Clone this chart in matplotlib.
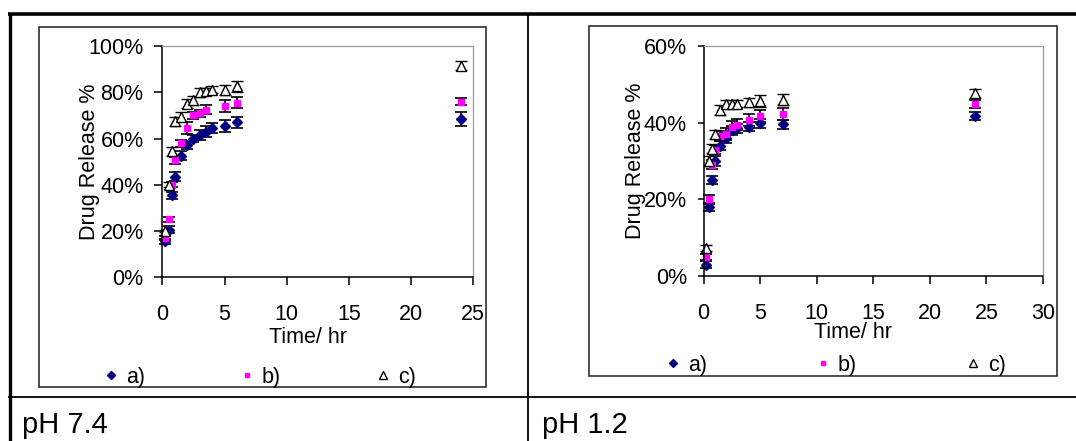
import matplotlib
matplotlib.use("Agg")
import matplotlib.pyplot as plt
from matplotlib.lines import Line2D
from matplotlib.patches import Rectangle
from matplotlib.ticker import PercentFormatter

# ---- data (percent drug release vs time in hours) ----
# pH 7.4
t74_a = [0.25, 0.5, 0.75, 1, 1.5, 2, 2.5, 3, 3.5, 4, 5, 6, 24]
rel74_a = [15.5, 20.5, 35.5, 43.5, 52.5, 57, 60, 61.5, 63, 64.5, 65.5, 67, 68.5]
err74_a = [1.0, 1.5, 1.5, 2.0, 2.0, 1.5, 1.5, 2.0, 2.5, 2.0, 2.5, 2.5, 3.0]

t74_b = [0.25, 0.5, 0.75, 1, 1.5, 2, 2.5, 3, 3.5, 5, 6, 24]
rel74_b = [17, 25, 40, 50.5, 58, 64.5, 70, 71, 72.5, 74, 75.5, 76]
err74_b = [1.0, 1.0, 1.0, 1.5, 1.5, 2.5, 1.5, 1.5, 2.0, 2.5, 2.5, 1.5]

t74_c = [0.25, 0.5, 0.75, 1, 1.5, 2, 2.5, 3, 3.5, 4, 5, 6, 24]
rel74_c = [20, 40, 54.5, 67.5, 69.5, 75, 76.5, 80, 80.5, 81, 81, 82.5, 91.5]
err74_c = [0.5, 1.0, 2.0, 2.0, 2.0, 2.0, 2.0, 2.0, 1.5, 1.5, 2.0, 2.5, 2.0]

# pH 1.2
t12 = [0.25, 0.5, 0.75, 1, 1.5, 2, 2.5, 3, 4, 5, 7, 24]
rel12_a = [3, 18, 25, 30, 34, 36, 38, 38.5, 39, 39.8, 39.6, 41.8]
err12_a = [0.8, 1.0, 1.0, 1.2, 1.2, 1.2, 1.2, 1.2, 1.2, 1.2, 1.2, 1.0]
rel12_b = [5, 20, 29, 33, 36.5, 37, 39, 39.5, 40.7, 41.8, 42.3, 44.8]
err12_b = [0.8, 1.2, 1.2, 1.2, 1.2, 1.5, 1.5, 1.5, 1.5, 1.5, 1.5, 1.0]
rel12_c = [7.2, 30, 33.2, 37, 43.3, 44.8, 45, 45, 45.3, 45.6, 46, 47.7]
err12_c = [0.8, 1.2, 1.2, 1.2, 1.2, 1.0, 1.0, 1.0, 1.2, 1.5, 1.5, 1.2]

labels = ["a)", "b)", "c)"]
captions = ["pH 7.4", "pH 1.2"]

W, H = 1076, 441
fig = plt.figure(figsize=(W / 100, H / 100), dpi=100)
fig.patch.set_facecolor("white")

plt.rcParams["font.family"] = ["Liberation Sans", "DejaVu Sans"]


def fx(x):
    return x / W


def fy(y):
    return 1 - y / H


def hline(x0, x1, y, lw, color="black"):
    fig.add_artist(Line2D([fx(x0), fx(x1)], [fy(y), fy(y)], transform=fig.transFigure,
                          color=color, lw=lw, solid_capstyle="butt"))


def vline(x, y0, y1, lw, color="black"):
    fig.add_artist(Line2D([fx(x), fx(x)], [fy(y0), fy(y1)], transform=fig.transFigure,
                          color=color, lw=lw, solid_capstyle="butt"))


def box(x0, y0, x1, y1):
    fig.add_artist(Rectangle((fx(x0), fy(y1)), fx(x1) - fx(x0), fy(y0) - fy(y1),
                             transform=fig.transFigure, fill=False, ec="#303030", lw=1.2))


# table frame
hline(8, W, 14, 2.6)
vline(9.5, 13, H, 2.4)
vline(528, 14, H, 1.3)
hline(8, W, 396.5, 1.3)

# chart boxes
box(39, 27, 486, 387)
box(589, 26, 1057, 376)


def make_axes(x0, x1, y_top, y_bot, xmax, ymax, ytick_len):
    ax = fig.add_axes([fx(x0), fy(y_bot), fx(x1) - fx(x0), fy(y_top) - fy(y_bot)])
    ax.set_xlim(0, xmax)
    ax.set_ylim(0, ymax)
    for s in ("left", "bottom"):
        ax.spines[s].set_linewidth(1.1)
        ax.spines[s].set_color("black")
    for s in ("top", "right"):
        ax.spines[s].set_linewidth(0.9)
        ax.spines[s].set_color("#9a9a9a")
    ax.yaxis.set_major_formatter(PercentFormatter(xmax=100, decimals=0))
    ax.tick_params(axis="x", direction="out", length=5.5, width=1.1, pad=14,
                   labelsize=15.5, top=False)
    ax.tick_params(axis="y", direction="out", length=ytick_len, width=1.1, pad=8,
                   labelsize=15.5, right=False)
    return ax


def draw_series(ax, series):
    styles = [
        dict(fmt="D", color="#000080", ms=5.2, mec="#000080"),
        dict(fmt="s", color="#ff00ff", ms=4.6, mec="#ff00ff"),
        dict(fmt="^", color="black", ms=7.5, mfc="white", mec="black", mew=1.0),
    ]
    handles = []
    for (t, v, e), st in zip(series, styles):
        c = ax.errorbar(t, v, yerr=e, ecolor="black", elinewidth=1.2, capsize=4,
                        capthick=1.2, linestyle="none", clip_on=False, **st)
        handles.append(c[0])
    return handles


# ---- pH 7.4 ----
ax1 = make_axes(162.3, 473.3, 46, 277.3, 25, 100, 5.5)
ax1.set_xticks([0, 5, 10, 15, 20, 25])
ax1.set_yticks([0, 20, 40, 60, 80, 100])
h1 = draw_series(ax1, [(t74_a, rel74_a, err74_a), (t74_b, rel74_b, err74_b),
                       (t74_c, rel74_c, err74_c)])
ax1.set_ylabel("Drug Release %", fontsize=15.5)
ax1.yaxis.set_label_coords(-0.2, 0.5)
ax1.set_xlabel("Time/ hr", fontsize=15.5)
ax1.xaxis.set_label_coords(0.468, -0.215)
fig.legend(h1, labels, loc="center left", bbox_to_anchor=(fx(102), fy(377)),
           ncol=3, frameon=False, fontsize=15.5, handlelength=0.8, handletextpad=0.3,
           columnspacing=4.35, borderpad=0, borderaxespad=0, markerscale=0.75)

# ---- pH 1.2 ----
ax2 = make_axes(703.5, 1043, 46, 276, 30, 60, 4)
ax2.set_xticks([0, 5, 10, 15, 20, 25, 30])
ax2.set_yticks([0, 20, 40, 60])
h2 = draw_series(ax2, [(t12, rel12_a, err12_a), (t12, rel12_b, err12_b),
                       (t12, rel12_c, err12_c)])
ax2.set_ylabel("Drug Release %", fontsize=15.5)
ax2.yaxis.set_label_coords(-0.17, 0.5)
ax2.set_xlabel("Time/ hr", fontsize=15.5)
ax2.xaxis.set_label_coords(0.44, -0.2)
fig.legend(h2, labels, loc="center left", bbox_to_anchor=(fx(664), fy(365)),
           ncol=3, frameon=False, fontsize=15.5, handlelength=0.8, handletextpad=0.3,
           columnspacing=5.0, borderpad=0, borderaxespad=0, markerscale=0.75)

# captions
fig.text(fx(22), fy(433), captions[0], fontsize=21, va="baseline", ha="left")
fig.text(fx(542), fy(433), captions[1], fontsize=21, va="baseline", ha="left")

fig.savefig("out.png", dpi=100)
